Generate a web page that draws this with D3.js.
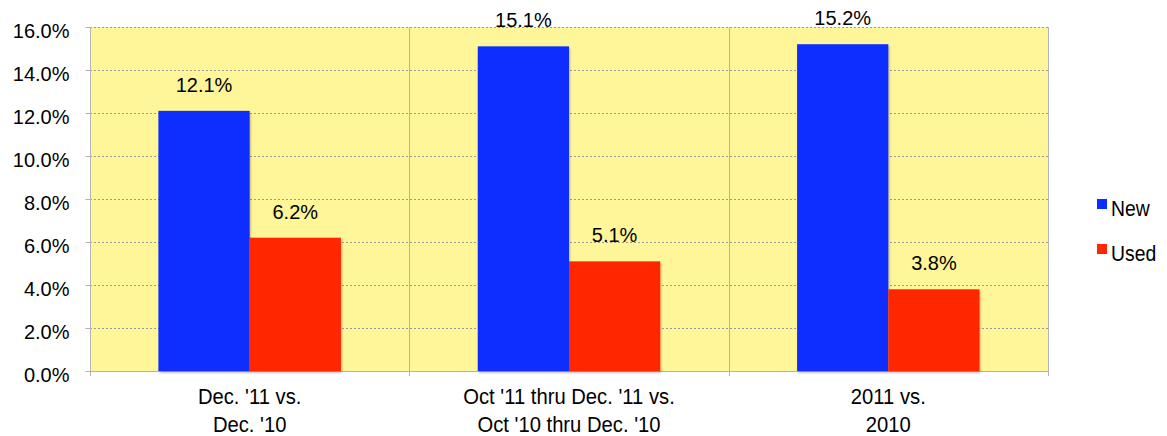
<!DOCTYPE html>
<html>
<head>
<meta charset="utf-8">
<script src="https://cdn.jsdelivr.net/npm/d3@7"></script>
<style>
  body { margin: 0; background: #fff; }
  svg { display: block; }
</style>
</head>
<body>
<script>
// categories (two lines each) and series
const categories = [
  ["Dec. '11 vs.", "Dec. '10"],
  ["Oct '11 thru Dec. '11 vs.", "Oct '10 thru Dec. '10"],
  ["2011 vs.", "2010"]
];
const seriesNames = ["New", "Used"];
const newValues = [12.1, 15.1, 15.2];
const usedValues = [6.2, 5.1, 3.8];
const yTicks = [0, 2, 4, 6, 8, 10, 12, 14, 16];
const colors = ["#0a2eff", "#ff2600"];

const width = 1167, height = 436;
const margin = {top: 27, right: 119, bottom: 65, left: 90};

const svg = d3.select("body").append("svg")
  .attr("width", width)
  .attr("height", height)
  .attr("font-family", "'Liberation Sans', Arial, sans-serif");

const x = d3.scaleBand()
  .domain(d3.range(categories.length))
  .range([margin.left, width - margin.right]);

// two bars side by side in the middle of each band
const inner = d3.scaleBand()
  .domain(seriesNames)
  .range([0, x.bandwidth()])
  .paddingOuter(0.75)
  .paddingInner(0);

const y = d3.scaleLinear()
  .domain([0, 16])
  .range([height - margin.bottom, margin.top]);

// plot background
svg.append("rect")
  .attr("x", margin.left)
  .attr("y", margin.top)
  .attr("width", width - margin.left - margin.right)
  .attr("height", y(0) - margin.top)
  .attr("fill", "#fff599");

// dotted gridlines
svg.append("g")
  .selectAll("line")
  .data(yTicks.filter(d => d > 0))
  .join("line")
  .attr("x1", margin.left)
  .attr("x2", width - margin.right)
  .attr("y1", d => y(d) + 0.5)
  .attr("y2", d => y(d) + 0.5)
  .attr("stroke", "#9a9a9a")
  .attr("stroke-width", 1)
  .attr("stroke-dasharray", "2,2");

// category separators
svg.append("g")
  .selectAll("line")
  .data(d3.range(1, categories.length + 1))
  .join("line")
  .attr("x1", d => Math.round(x(d - 1) + x.bandwidth()) + 0.5)
  .attr("x2", d => Math.round(x(d - 1) + x.bandwidth()) + 0.5)
  .attr("y1", margin.top)
  .attr("y2", y(0) + 5)
  .attr("stroke", "#b3b3b3");

// y axis
const yAxis = svg.append("g")
  .attr("transform", `translate(${margin.left + 0.5},0)`)
  .call(d3.axisLeft(y).tickValues(yTicks).tickSize(5).tickPadding(16)
    .tickFormat(d => d.toFixed(1) + "%"));
yAxis.select(".domain").attr("stroke", "#b3b3b3").attr("d", `M0,${margin.top}V${y(0)}`);
yAxis.selectAll(".tick line").attr("stroke", "#b3b3b3");
yAxis.selectAll(".tick text")
  .attr("font-size", 20)
  .attr("dy", "0.5em")
  .attr("font-family", "'Liberation Sans', Arial, sans-serif")
  .attr("fill", "#000");

// x axis line
svg.append("line")
  .attr("x1", margin.left)
  .attr("x2", width - margin.right)
  .attr("y1", y(0) + 0.5)
  .attr("y2", y(0) + 0.5)
  .attr("stroke", "#b3b3b3");
svg.append("line")
  .attr("x1", margin.left + 0.5)
  .attr("x2", margin.left + 0.5)
  .attr("y1", y(0))
  .attr("y2", y(0) + 5)
  .attr("stroke", "#b3b3b3");

const data = categories.map((c, i) => ({i, vals: [newValues[i], usedValues[i]]}));

const defs = svg.append("defs");
defs.append("filter").attr("id", "shadow")
  .append("feDropShadow")
  .attr("dx", 1).attr("dy", 2).attr("stdDeviation", 1.2)
  .attr("flood-color", "#000").attr("flood-opacity", 0.25);

const groups = svg.append("g")
  .selectAll("g")
  .data(data)
  .join("g")
  .attr("transform", d => `translate(${x(d.i)},0)`);

groups.selectAll("rect")
  .data(d => d.vals.map((v, k) => ({v, k})))
  .join("rect")
  .attr("x", d => inner(seriesNames[d.k]))
  .attr("width", inner.bandwidth())
  .attr("y", d => y(d.v))
  .attr("height", d => y(0) - y(d.v))
  .attr("fill", d => colors[d.k])
  .attr("filter", "url(#shadow)");

groups.selectAll("text.val")
  .data(d => d.vals.map((v, k) => ({v, k})))
  .join("text")
  .attr("class", "val")
  .attr("x", d => inner(seriesNames[d.k]) + inner.bandwidth() / 2)
  .attr("y", d => y(d.v) - 19)
  .attr("text-anchor", "middle")
  .attr("font-size", 20)
  .text(d => d.v.toFixed(1) + "%");

// category labels (narrow look)
svg.append("g")
  .selectAll("g")
  .data(categories)
  .join("g")
  .attr("transform", (d, i) => `translate(${x(i) + x.bandwidth() / 2},${y(0) + 33}) scale(0.92,1)`)
  .append("text")
  .attr("text-anchor", "middle")
  .attr("font-size", 22)
  .selectAll("tspan")
  .data(d => d)
  .join("tspan")
  .attr("x", 0)
  .attr("dy", (d, j) => j === 0 ? 0 : 28)
  .text(d => d);

// legend
const legend = svg.append("g")
  .selectAll("g")
  .data(seriesNames)
  .join("g")
  .attr("transform", (d, i) => `translate(1097,${199 + i * 45})`);
legend.append("rect")
  .attr("width", 10).attr("height", 10)
  .attr("fill", (d, i) => colors[i]);
legend.append("text")
  .attr("transform", "translate(14,17) scale(0.88,1)")
  .attr("font-size", 22)
  .text(d => d);
</script>
</body>
</html>
